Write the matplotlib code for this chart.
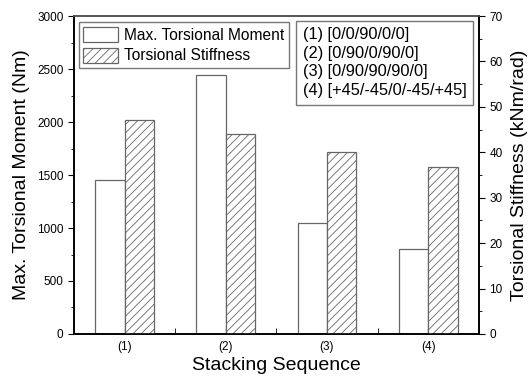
"""Torsional moment and stiffness per stacking sequence."""

import matplotlib
matplotlib.use("Agg")
import matplotlib.pyplot as plt
import numpy as np
from matplotlib.patches import Patch
from matplotlib.ticker import MultipleLocator, FixedLocator

plt.rcParams["font.family"] = ["Liberation Sans", "DejaVu Sans"]
plt.rcParams["hatch.linewidth"] = 0.6
plt.rcParams["hatch.color"] = "#666666"

categories = ["(1)", "(2)", "(3)", "(4)"]
sequences = ["[0/0/90/0/0]", "[0/90/0/90/0]", "[0/90/90/90/0]", "[+45/-45/0/-45/+45]"]
max_moment = [1450, 2440, 1050, 800]          # Nm
stiffness = [47.1, 44.0, 40.0, 36.8]          # kNm/rad

x = np.arange(1, len(categories) + 1)
w = 0.29
edge = "#666666"

fig = plt.figure(figsize=(5.32, 3.83), dpi=100)
ax = fig.add_axes([0.139, 0.128, 0.761, 0.830])
ax2 = ax.twinx()

ax.bar(x - w / 2, max_moment, w, color="white", edgecolor=edge, linewidth=0.9)
ax2.bar(x + w / 2, stiffness, w, color="white", edgecolor=edge, linewidth=0.9,
        hatch="////")

ax.set_xlim(0.5, 4.5)
ax.set_ylim(0, 3000)
ax2.set_ylim(0, 70)
ax.set_xticks(x)
ax.set_xticklabels(categories, fontsize=8.5)
ax.xaxis.set_minor_locator(FixedLocator(x[:-1] + 0.5))
ax.yaxis.set_major_locator(MultipleLocator(500))
ax.yaxis.set_minor_locator(MultipleLocator(250))
ax2.yaxis.set_major_locator(MultipleLocator(10))
ax2.yaxis.set_minor_locator(MultipleLocator(5))

ax.tick_params(axis="x", which="both", direction="in", length=4, pad=5)
ax.tick_params(axis="y", which="major", direction="out", length=4, labelsize=8.5)
ax.tick_params(axis="y", which="minor", direction="out", length=2)
ax2.tick_params(axis="y", which="major", direction="out", length=4, labelsize=8.5)
ax2.tick_params(axis="y", which="minor", direction="out", length=2)
for a in (ax, ax2):
    for s in a.spines.values():
        s.set_linewidth(1.2)
    a.spines["top"].set_color("#555555")

ax.set_xlabel("Stacking Sequence", fontsize=14, labelpad=3)
ax.set_ylabel("Max. Torsional Moment (Nm)", fontsize=14, labelpad=5)
ax2.set_ylabel("Torsional Stiffness (kNm/rad)", fontsize=14, labelpad=6)

handles = [
    Patch(facecolor="white", edgecolor=edge, linewidth=0.9),
    Patch(facecolor="white", edgecolor=edge, linewidth=0.9, hatch="////"),
]
leg = ax2.legend(handles, ["Max. Torsional Moment", "Torsional Stiffness"],
                 loc="upper left", bbox_to_anchor=(0.012, 0.981), fontsize=11.2,
                 fancybox=False, framealpha=1, edgecolor="#777777",
                 handlelength=2.2, handleheight=1.1, handletextpad=0.4,
                 labelspacing=0.33, borderpad=0.3, borderaxespad=0)
leg.get_frame().set_linewidth(1.0)

key = "\n".join(f"{c} {s}" for c, s in zip(categories, sequences))
ax2.text(0.565, 0.965, key, transform=ax2.transAxes, fontsize=11.8,
         va="top", ha="left", linespacing=1.3,
         bbox=dict(boxstyle="square,pad=0.4", facecolor="white",
                   edgecolor="#777777", linewidth=1.0))

fig.savefig("out.png", dpi=100)
plt.close(fig)
